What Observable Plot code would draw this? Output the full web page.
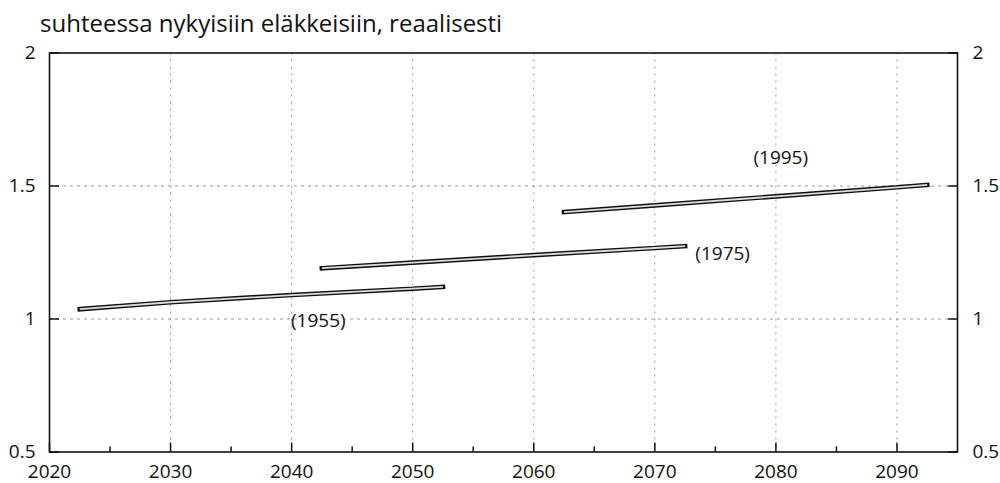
<!DOCTYPE html>
<html><head><meta charset="utf-8">
<script src="https://cdn.jsdelivr.net/npm/d3@7"></script>
<script src="https://cdn.jsdelivr.net/npm/@observablehq/plot@0.6"></script>
<style>
body{margin:0;background:#fff;font-family:"Open Sans","Noto Sans",sans-serif;}
#title{height:40px;font-size:24px;padding-left:40px;line-height:46px;color:#111;box-sizing:border-box;}
</style></head><body>
<div id="title">suhteessa nykyisiin eläkkeisiin, reaalisesti</div>
<div id="chart"></div>
<script>
const years1955 = [2022.5, 2030, 2040, 2050, 2052.5];
const values1955 = [1.037, 1.063, 1.090, 1.114, 1.121];
const years1975 = [2042.5, 2050, 2060, 2070, 2072.5];
const values1975 = [1.191, 1.212, 1.240, 1.267, 1.274];
const years1995 = [2062.5, 2070, 2080, 2090, 2092.5];
const values1995 = [1.402, 1.427, 1.461, 1.495, 1.504];
const cohortLabels = ["(1955)", "(1975)", "(1995)"];
const labelYears = [2042.2, 2075.6, 2080.4];
const labelValues = [0.993, 1.244, 1.605];
const xMajorTicks = [2020, 2030, 2040, 2050, 2060, 2070, 2080, 2090];
const xMinorTicks = [2025, 2035, 2045, 2055, 2065, 2075, 2085];
const xGridTicks = [2030, 2040, 2050, 2060, 2070, 2080, 2090];
const yTicks = [0.5, 1, 1.5, 2];
const yGridTicks = [1, 1.5];

const series = [
  {name: "1955", years: years1955, values: values1955},
  {name: "1975", years: years1975, values: values1975},
  {name: "1995", years: years1995, values: values1995}
];
const rows = series.flatMap(s => s.years.map((y, i) => ({cohort: s.name, year: y, value: s.values[i]})));
const labels = cohortLabels.map((t, i) => ({text: t, year: labelYears[i], value: labelValues[i]}));

const chart = Plot.plot({
  width: 1000,
  height: 443,
  marginTop: 12.5,
  marginBottom: 31.5,
  marginLeft: 49,
  marginRight: 43,
  style: {fontFamily: '"Open Sans","Noto Sans",sans-serif', fontSize: "19px", color: "#111", background: "#fff", overflow: "visible"},
  x: {domain: [2020, 2095]},
  y: {domain: [0.5, 2]},
  marks: [
    Plot.gridX(xGridTicks, {stroke: "#999", strokeOpacity: 1, strokeDasharray: "2,5"}),
    Plot.gridY(yGridTicks, {stroke: "#999", strokeOpacity: 1, strokeDasharray: "3,4"}),
    Plot.axisX(xMajorTicks, {anchor: "bottom", tickSize: -9, tickPadding: 21, tickFormat: d => String(d), label: null, fontSize: 19, strokeWidth: 1.5}),
    Plot.axisX(xMinorTicks, {anchor: "bottom", tickSize: -5, tickFormat: () => "", label: null, strokeWidth: 1.5}),
    Plot.axisY(yTicks, {anchor: "left", tickSize: -10, tickPadding: 24, tickFormat: d => String(d), label: null, fontSize: 19, strokeWidth: 1.5}),
    Plot.axisY(yTicks, {anchor: "right", tickSize: -10, tickPadding: 25, tickFormat: d => String(d), label: null, fontSize: 19, strokeWidth: 1.5}),
    Plot.frame({stroke: "#111", strokeWidth: 1.6}),
    Plot.line(rows, {x: "year", y: "value", z: "cohort", stroke: "#111", strokeWidth: 4.6, strokeLinecap: "square", strokeLinejoin: "miter"}),
    Plot.line(rows, {x: "year", y: "value", z: "cohort", stroke: "#ddd", strokeWidth: 1.8, strokeLinecap: "butt"}),
    Plot.text(labels, {x: "year", y: "value", text: "text", fontSize: 19, fill: "#111"})
  ]
});
document.getElementById("chart").appendChild(chart);
</script>
</body></html>
